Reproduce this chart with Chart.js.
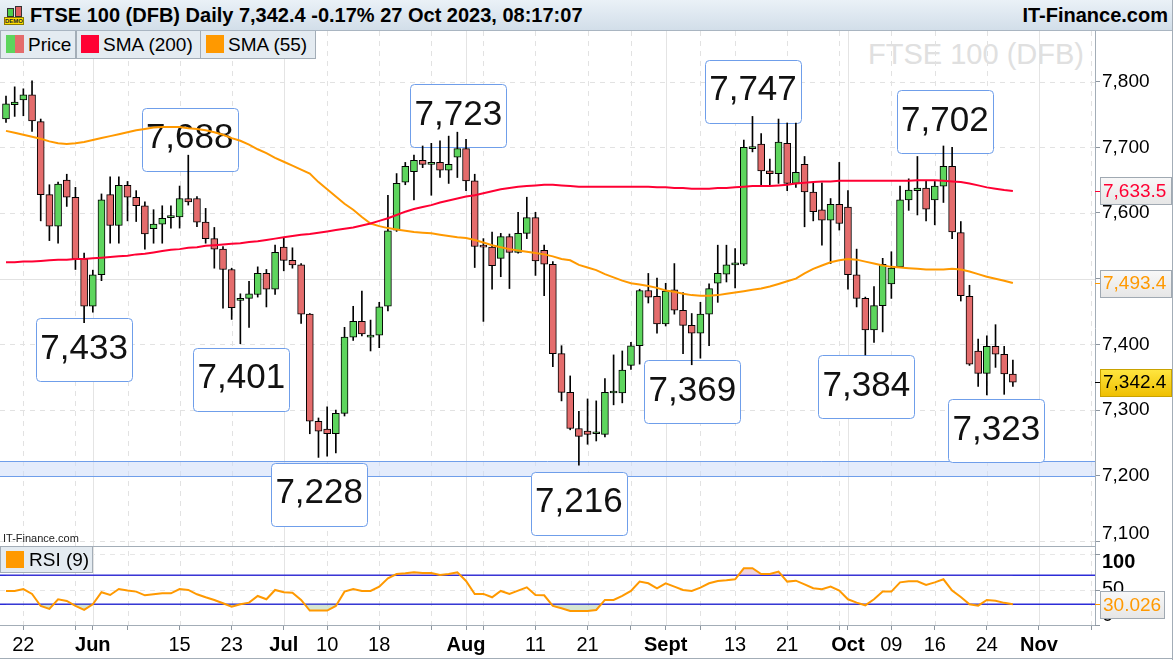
<!DOCTYPE html>
<html>
<head>
<meta charset="utf-8">
<title>FTSE 100 (DFB) Daily</title>
<script src="https://cdn.jsdelivr.net/npm/chart.js@4.4.0/dist/chart.umd.min.js"></script>
<style>
  html, body { margin: 0; padding: 0; background: #fff; }
  #wrap { position: relative; width: 1173px; height: 660px; overflow: hidden; background: #fff;
          font-family: "Liberation Sans", Arial, sans-serif; color: #000; }
  #watermark { position: absolute; right: 89px; top: 38px; font-size: 29px; color: #e0e0e0; white-space: nowrap; }
  #chart { position: absolute; left: 0; top: 0; }
  #header { position: absolute; left: 0; top: 0; width: 1173px; height: 31px; box-sizing: border-box;
            background: linear-gradient(#eaf1f7, #d2dee9); border-bottom: 1px solid #a9b5c1; }
  #title { position: absolute; left: 30px; top: 4px; font-weight: bold; font-size: 20px; white-space: nowrap; }
  #brand { position: absolute; right: 5px; top: 4px; font-weight: bold; font-size: 20px; white-space: nowrap; }
  #icon { position: absolute; left: 4px; top: 6px; width: 20px; height: 20px; }
  #icon .c1 { position: absolute; left: 3px; top: 2px; width: 5px; height: 7px; background: #4ccf4c; border: 1px solid #333; }
  #icon .c2 { position: absolute; left: 11px; top: 0px; width: 5px; height: 9px; background: #e06060; border: 1px solid #333; }
  #icon .demo { position: absolute; left: 0; top: 11px; width: 20px; height: 8px; background: #ffe000; border: 1px solid #8a7a00;
                box-sizing: border-box; font-size: 6px; line-height: 7px; font-weight: bold; color: #223; text-align: center; }
  .lg { position: absolute; top: 31px; height: 28px; box-sizing: border-box; background: #e4ebf1;
        border: 1px solid #a3adb7; border-top: none; font-size: 19px; line-height: 27px; white-space: nowrap; }
  .lg .sw { position: absolute; top: 4px; width: 18px; height: 18px; }
  .lg .tx { position: absolute; top: 0; }
  #site { position: absolute; left: 3px; top: 532px; font-size: 11px; color: #222; white-space: nowrap; }
  #rsiLegend { position: absolute; left: 0; top: 546px; width: 93px; height: 27px; box-sizing: border-box;
               background: #e4ebf1; border: 1px solid #a3adb7; font-size: 19px; line-height: 26px; white-space: nowrap; }
  #rsiLegend .sw { position: absolute; left: 5px; top: 4px; width: 18px; height: 17px; background: #ff9900; }
  #rsiLegend .tx { position: absolute; left: 28px; top: 0; }
  #frameR { position: absolute; right: 0; top: 0; width: 1px; height: 660px; background: #a3adb7; }
  #frameB { position: absolute; left: 0; top: 658px; width: 1173px; height: 1px; background: #a3adb7; }
</style>
</head>
<body>
<div id="wrap">
  <div id="watermark">FTSE 100 (DFB)</div>
  <canvas id="chart" width="1173" height="660"></canvas>
  <div id="header">
    <div id="icon"><div class="c1"></div><div class="c2"></div><div class="demo">DEMO</div></div>
    <div id="title"></div>
    <div id="brand">IT-Finance.com</div>
  </div>
  <div class="lg" style="left:0;width:76px;">
    <div class="sw" style="left:5px;width:9px;background:#5dd55d;"></div>
    <div class="sw" style="left:14px;width:9px;background:#e46c6c;"></div>
    <div class="tx" style="left:27px;">Price</div>
  </div>
  <div class="lg" style="left:76px;width:125px;">
    <div class="sw" style="left:4px;background:#ff0033;"></div>
    <div class="tx" style="left:26px;">SMA (200)</div>
  </div>
  <div class="lg" style="left:200px;width:116px;">
    <div class="sw" style="left:5px;background:#ff9900;"></div>
    <div class="tx" style="left:27px;">SMA (55)</div>
  </div>
  <div id="site">IT-Finance.com</div>
  <div id="rsiLegend"><div class="sw"></div><div class="tx">RSI (9)</div></div>
  <div id="frameR"></div>
  <div id="frameB"></div>
</div>

<script>
// ---- Daily sessions, 18 May to 27 Oct 2023 ----
const dates = ['18 May','19 May','22 May','23 May','24 May','25 May','26 May','29 May','30 May','31 May',
  '1 Jun','2 Jun','5 Jun','6 Jun','7 Jun','8 Jun','9 Jun','12 Jun','13 Jun','14 Jun','15 Jun','16 Jun','19 Jun','20 Jun','21 Jun','22 Jun','23 Jun','26 Jun','27 Jun','28 Jun','29 Jun','30 Jun',
  '3 Jul','4 Jul','5 Jul','6 Jul','7 Jul','10 Jul','11 Jul','12 Jul','13 Jul','14 Jul','17 Jul','18 Jul','19 Jul','20 Jul','21 Jul','24 Jul','25 Jul','26 Jul','27 Jul','28 Jul','31 Jul',
  '1 Aug','2 Aug','3 Aug','4 Aug','7 Aug','8 Aug','9 Aug','10 Aug','11 Aug','14 Aug','15 Aug','16 Aug','17 Aug','18 Aug','21 Aug','22 Aug','23 Aug','24 Aug','25 Aug','28 Aug','29 Aug','30 Aug','31 Aug',
  '1 Sep','4 Sep','5 Sep','6 Sep','7 Sep','8 Sep','11 Sep','12 Sep','13 Sep','14 Sep','15 Sep','18 Sep','19 Sep','20 Sep','21 Sep','22 Sep','25 Sep','26 Sep','27 Sep','28 Sep','29 Sep',
  '2 Oct','3 Oct','4 Oct','5 Oct','6 Oct','9 Oct','10 Oct','11 Oct','12 Oct','13 Oct','16 Oct','17 Oct','18 Oct','19 Oct','20 Oct','23 Oct','24 Oct','25 Oct','26 Oct','27 Oct'];

const open = [
  7743,7765,7772,7780,7739,7628,7580,7650,7624,7530,
  7458,7506,7628,7581,7642,7624,7611,7576,7583,7593,
  7594,7622,7622,7586,7561,7545,7514,7467,7470,7476,
  7508,7484,7548,7528,7521,7446,7283,7271,7264,7295,
  7411,7435,7411,7414,7458,7574,7647,7663,7680,7674,
  7677,7665,7685,7698,7649,7549,7548,7531,7564,7540,
  7569,7593,7543,7522,7386,7327,7272,7268,7264,7263,
  7326,7326,7368,7398,7482,7473,7431,7483,7452,7429,
  7417,7446,7493,7507,7521,7522,7698,7705,7664,7660,
  7706,7645,7674,7632,7605,7589,7613,7609,7506,7470,
  7422,7459,7492,7518,7620,7634,7638,7620,7641,7671,
  7570,7473,7390,7356,7397,7385,7355];
const high = [
  7778,7792,7789,7801,7743,7643,7647,7659,7639,7539,
  7513,7629,7655,7655,7648,7634,7617,7605,7611,7611,
  7641,7688,7625,7607,7578,7549,7516,7477,7496,7518,
  7514,7551,7562,7547,7523,7447,7288,7305,7300,7426,
  7458,7481,7437,7464,7627,7660,7677,7688,7702,7706,
  7710,7717,7723,7712,7659,7561,7571,7569,7568,7601,
  7624,7601,7551,7526,7398,7352,7298,7317,7314,7348,
  7384,7390,7403,7484,7508,7501,7493,7523,7479,7447,
  7464,7492,7551,7551,7546,7711,7747,7721,7682,7743,
  7737,7737,7686,7646,7646,7622,7677,7634,7545,7472,
  7488,7531,7541,7641,7652,7686,7649,7648,7702,7700,
  7587,7490,7408,7413,7430,7397,7376];
const low = [
  7738,7747,7748,7724,7588,7558,7554,7610,7514,7433,
  7449,7497,7554,7554,7588,7587,7545,7554,7554,7577,
  7577,7612,7579,7554,7516,7455,7438,7401,7426,7472,
  7457,7476,7512,7516,7432,7264,7228,7230,7235,7291,
  7406,7413,7390,7395,7451,7572,7643,7620,7669,7627,
  7654,7645,7654,7634,7517,7435,7484,7503,7485,7539,
  7561,7505,7474,7366,7314,7270,7216,7248,7253,7259,
  7308,7311,7362,7370,7463,7417,7428,7446,7386,7369,
  7379,7398,7464,7495,7486,7520,7693,7641,7643,7645,
  7634,7639,7579,7588,7551,7523,7574,7484,7457,7384,
  7403,7419,7470,7517,7604,7597,7588,7582,7616,7561,
  7466,7368,7336,7323,7365,7324,7336];
const close = [
  7766,7769,7780,7740,7628,7580,7644,7624,7530,7458,
  7506,7620,7581,7642,7624,7611,7568,7583,7592,7594,
  7622,7617,7586,7561,7545,7514,7456,7470,7477,7508,
  7484,7540,7528,7521,7446,7283,7268,7264,7295,7411,
  7435,7416,7414,7457,7573,7645,7671,7680,7674,7677,
  7665,7674,7698,7649,7549,7548,7520,7564,7540,7569,
  7593,7527,7522,7386,7327,7272,7260,7263,7265,7327,
  7327,7361,7398,7482,7472,7431,7481,7452,7429,7417,
  7446,7485,7508,7521,7522,7700,7699,7664,7660,7708,
  7645,7662,7632,7602,7589,7613,7584,7506,7470,7422,
  7459,7522,7516,7620,7635,7638,7606,7641,7671,7571,
  7474,7370,7356,7397,7385,7354.9,7342.4];

const sma200 = [
  7525,7525,7526,7526,7527,7528,7529,7529,7530,7530,
  7531,7532,7533,7534,7535,7537,7538,7540,7542,7544,
  7545,7547,7548,7550,7551,7552,7553,7554,7556,7557,
  7559,7561,7563,7565,7567,7568,7570,7572,7574,7576,
  7578,7581,7584,7588,7592,7597,7602,7606,7609,7612,
  7616,7619,7622,7625,7627,7630,7633,7636,7638,7640,
  7641,7642,7643,7643,7642,7641,7640,7640,7640,7640,
  7640,7640,7640,7640,7640,7639,7639,7638,7638,7637,
  7637,7637,7638,7638,7639,7640,7641,7641,7641,7642,
  7643,7645,7646,7647,7648,7648,7649,7649,7649,7649,
  7649,7649,7649,7649,7649,7650,7650,7650,7649,7648,
  7647,7645,7642,7639,7637,7635,7633.5];
const sma55 = [
  7725,7722,7719,7716,7713,7709,7706,7705,7706,7708,
  7711,7714,7717,7720,7723,7726,7728,7730,7731,7731,
  7731,7729,7728,7726,7723,7719,7714,7710,7704,7697,
  7691,7684,7678,7672,7666,7660,7647,7636,7625,7614,
  7605,7594,7584,7580,7577,7575,7573,7571,7570,7569,
  7567,7565,7563,7562,7559,7555,7551,7548,7545,7543,
  7541,7539,7537,7534,7530,7528,7521,7517,7513,7507,
  7502,7497,7493,7491,7489,7486,7482,7480,7477,7475,
  7474,7474,7475,7477,7479,7481,7483,7485,7488,7492,
  7496,7500,7508,7515,7520,7525,7528,7530,7529,7526,
  7523,7520,7518,7517,7516,7515,7514,7514,7514,7515,
  7514,7511,7507,7503,7500,7497,7493.4];
const rsi9 = [
  48.4,48.4,51.1,44.3,27.7,23.6,36.9,34.6,27.7,22.2,
  30,46.6,42.9,51.1,48.9,47.5,42.4,43.8,45.2,45.2,
  51.1,49.8,43.8,39.7,36,31.4,26.8,30,32.3,41.5,
  36.9,49.8,46.6,46.1,36,21.3,21.3,21.3,27.7,47.5,
  51.1,48.4,48.4,54.4,65.9,71.8,72.8,74.1,73.2,73.2,
  70.5,71.8,74.1,62.2,44.3,44.3,39.7,48.4,44.3,48.9,
  53.4,42.9,42.4,27.7,24.5,20.8,20.8,20.8,22.2,36,
  36,41.5,48.4,61.3,59,52.1,59,54.4,49.8,48.4,
  53,59,62.2,63.1,64.5,79.7,79.7,71.8,71.8,75.1,
  61.3,62.6,57.6,52.1,50.7,54.4,48.9,36.9,32.3,28.6,
  36.9,47.5,47.5,60.3,61.7,61.7,56.7,60.3,64.5,48.9,
  40,30,28.1,35.9,34.8,32,30.026];

// axis ticks: session slot (1 = first session) and its label
const tickSlots  = [3, 9, 11, 15, 21, 27, 33, 38, 44, 50, 54, 56, 62, 68, 73, 77, 81, 85, 91, 97, 98, 103, 108, 114, 120, 126];
const tickLabels = ['22','','Jun','','15','23','Jul','10','18','','Aug','','11','21','','Sept','','13','21','','Oct','09','16','24','Nov',''];
const monthSlots = [11, 33, 54, 77, 98, 120];
const priceTicks = [7100, 7200, 7300, 7400, 7500, 7600, 7700, 7800];
const rsiTicks = [0, 50, 100];
const rsiBands = [30, 70];
const supportZone = [7200, 7223];

// swing highs / lows that carry a value label
const swings = [
  { slot: 22, at: 'high' }, { slot: 10, at: 'low' }, { slot: 28, at: 'low' }, { slot: 37, at: 'low' },
  { slot: 53, at: 'high' }, { slot: 67, at: 'low' }, { slot: 80, at: 'low' }, { slot: 87, at: 'high' },
  { slot: 100, at: 'low' }, { slot: 109, at: 'high' }, { slot: 114, at: 'low' }];
// label box placement relative to the marked price (px)
const swingBoxShift = [[1.4,-16],[0,27],[1,35.6],[0.7,37],[1,-16.6],[0,38.2],[0.6,27],[0.5,-25.4],[1,32],[1.4,-24],[9.5,36]];

// ---- layout ----
const FONT = '"Liberation Sans", Arial, sans-serif';
const PANE_SPLIT = 546;          // boundary between price pane and RSI pane
const X_MIN = 0.30876, X_MAX = 126.4608;
const PRICE_MIN = 6972.9, PRICE_MAX = 7877.0;
const RSI_MIN = 1.45, RSI_MAX = 820.8;
const UP = '#5dd55d', DOWN = '#e46c6c';
const fmt = (v, d = 0) => v.toLocaleString('en-US', { minimumFractionDigits: d, maximumFractionDigits: d });

const N = close.length;
const slots = close.map((_, k) => k + 1);
const last = close[N - 1], prev = close[N - 2];
document.getElementById('title').textContent =
  'FTSE 100 (DFB) Daily ' + fmt(last, 1) + ' ' + ((last / prev - 1) * 100).toFixed(2) + '% ' + dates[N - 1] + ' 2023, 08:17:07';

function hline(ctx, x1, x2, y) { ctx.beginPath(); ctx.moveTo(x1, y); ctx.lineTo(x2, y); ctx.stroke(); }
function vline(ctx, x, y1, y2) { ctx.beginPath(); ctx.moveTo(x, y1); ctx.lineTo(x, y2); ctx.stroke(); }
const crisp = v => Math.round(v) + 0.5;

function roundRect(ctx, x, y, w, h, r) {
  ctx.beginPath();
  ctx.moveTo(x + r, y); ctx.lineTo(x + w - r, y); ctx.arcTo(x + w, y, x + w, y + r, r);
  ctx.lineTo(x + w, y + h - r); ctx.arcTo(x + w, y + h, x + w - r, y + h, r);
  ctx.lineTo(x + r, y + h); ctx.arcTo(x, y + h, x, y + h - r, r);
  ctx.lineTo(x, y + r); ctx.arcTo(x, y, x + r, y, r); ctx.closePath();
}

function valueTag(ctx, yy, text, color, top, bot, stroke, w, tickColor) {
  const t = Math.round(yy - 13.5) + 0.5, l = 1100.5, h = 27;
  const g = ctx.createLinearGradient(0, t, 0, t + h);
  g.addColorStop(0, top); g.addColorStop(1, bot);
  ctx.fillStyle = g; ctx.fillRect(l, t, w, h);
  ctx.strokeStyle = stroke; ctx.lineWidth = 1; ctx.setLineDash([]); ctx.strokeRect(l, t, w, h);
  ctx.fillStyle = color; ctx.font = '19px ' + FONT; ctx.textAlign = 'left'; ctx.textBaseline = 'middle';
  ctx.fillText(text, 1103, yy + 1);
  ctx.strokeStyle = tickColor; hline(ctx, 1095, 1100, crisp(yy));
}

const paneDecor = {
  id: 'paneDecor',
  beforeDatasetsDraw(chart) {
    const { ctx, chartArea: a, scales: { x, y, rsi } } = chart;
    ctx.save();
    ctx.lineWidth = 1;
    // vertical grid
    tickSlots.forEach(s => {
      const px = crisp(x.getPixelForValue(s));
      if (px > a.right - 1) return;
      const solid = monthSlots.includes(s);
      ctx.strokeStyle = solid ? '#e4e4e4' : '#e2e2e2';
      ctx.setLineDash(solid ? [] : [5, 5]);
      vline(ctx, px, a.top, a.bottom);
    });
    // horizontal price grid
    priceTicks.forEach(v => {
      const py = crisp(y.getPixelForValue(v));
      if (py > PANE_SPLIT - 1) return;
      ctx.strokeStyle = '#e2e2e2';
      ctx.setLineDash(v === 7500 ? [] : [5, 5]);
      hline(ctx, a.left, a.right, py);
    });
    // RSI pane grid
    [50, 100].forEach(v => {
      ctx.strokeStyle = '#e6e6e6'; ctx.setLineDash([5, 5]);
      hline(ctx, a.left, a.right, crisp(rsi.getPixelForValue(v)));
    });
    ctx.setLineDash([]);
    // support zone
    const zTop = crisp(y.getPixelForValue(supportZone[1])), zBot = crisp(y.getPixelForValue(supportZone[0]));
    ctx.fillStyle = 'rgba(205,220,250,0.55)';
    ctx.fillRect(a.left, zTop, a.right - a.left, zBot - zTop);
    ctx.strokeStyle = '#6f9eea';
    hline(ctx, a.left, a.right, zTop); hline(ctx, a.left, a.right, zBot);
    // pane separator
    ctx.strokeStyle = '#a3adb7';
    hline(ctx, a.left, a.right, PANE_SPLIT + 0.5);
    // RSI bands
    ctx.strokeStyle = '#2c2cd8'; ctx.lineWidth = 1.5;
    rsiBands.forEach(v => hline(ctx, a.left, a.right, Math.round(rsi.getPixelForValue(v)) + 0.25));
    // swing labels
    ctx.lineWidth = 1;
    ctx.font = '35px ' + FONT; ctx.textAlign = 'center'; ctx.textBaseline = 'alphabetic';
    swings.forEach((s, k) => {
      const v = s.at === 'high' ? high[s.slot - 1] : low[s.slot - 1];
      const cx = x.getPixelForValue(s.slot) + swingBoxShift[k][0];
      const cy = y.getPixelForValue(v) + swingBoxShift[k][1];
      const w = 96, h = 63;
      roundRect(ctx, Math.round(cx - w / 2) + 0.5, Math.round(cy - h / 2) + 0.5, w, h, 4);
      ctx.fillStyle = '#fff'; ctx.fill();
      ctx.strokeStyle = '#6f9eea'; ctx.stroke();
      ctx.fillStyle = '#111';
      ctx.fillText(fmt(v), cx, cy + 9);
    });
    ctx.restore();
  },
  afterDraw(chart) {
    const { ctx, chartArea: a, scales: { y, rsi } } = chart;
    ctx.save();
    ctx.textAlign = 'left'; ctx.textBaseline = 'middle'; ctx.fillStyle = '#000';
    // lowest price label, kept inside the price pane
    ctx.font = '19px ' + FONT;
    ctx.fillText(fmt(priceTicks[0]), 1102, Math.min(y.getPixelForValue(priceTicks[0]), PANE_SPLIT - 12));
    // RSI axis
    ctx.strokeStyle = '#8d969f'; ctx.lineWidth = 1;
    rsiTicks.forEach(v => {
      const py = rsi.getPixelForValue(v);
      hline(ctx, 1095, 1100, crisp(Math.min(py, a.bottom)));
      const ly = Math.max(PANE_SPLIT + 16, Math.min(py, a.bottom - 10));
      ctx.font = (v === 100 ? 'bold ' : '') + '20px ' + FONT;
      ctx.fillText(String(v), 1102, ly);
    });
    // last-value tags
    valueTag(ctx, y.getPixelForValue(sma200[N - 1]), fmt(sma200[N - 1], 1), '#ff0033', '#f8f8f8', '#e6e6e6', '#a0a9b2', 71, '#ff0033');
    valueTag(ctx, y.getPixelForValue(sma55[N - 1]), fmt(sma55[N - 1], 1), '#ff9900', '#f8f8f8', '#e6e6e6', '#a0a9b2', 71, '#ff9900');
    valueTag(ctx, y.getPixelForValue(last), fmt(last, 1), '#000', '#ffe640', '#efbf00', '#c9a200', 71, '#000');
    valueTag(ctx, rsi.getPixelForValue(rsi9[N - 1]), rsi9[N - 1].toFixed(3), '#ff9900', '#f8f8f8', '#e6e6e6', '#a0a9b2', 64, '#ff9900');
    ctx.restore();
  }
};

const pts = arr => slots.map((s, k) => ({ x: s, y: arr[k] }));

new Chart(document.getElementById('chart'), {
  type: 'bar',
  data: {
    datasets: [
      { type: 'line', label: 'RSI (9)', data: pts(rsi9), yAxisID: 'rsi', borderColor: '#ff9900', borderWidth: 2,
        pointRadius: 0, tension: 0, order: 0,
        fill: { target: { value: 30 }, above: 'rgba(0,0,0,0)', below: 'rgba(165,200,155,0.45)' } },
      { type: 'line', label: 'RSI overbought', data: pts(rsi9), yAxisID: 'rsi', borderColor: 'rgba(0,0,0,0)', borderWidth: 0,
        pointRadius: 0, tension: 0, order: 1,
        fill: { target: { value: 70 }, above: 'rgba(222,160,180,0.45)', below: 'rgba(0,0,0,0)' } },
      { type: 'line', label: 'SMA (200)', data: pts(sma200), yAxisID: 'y', borderColor: '#ff0033', borderWidth: 2,
        pointRadius: 0, tension: 0, order: 1 },
      { type: 'line', label: 'SMA (55)', data: pts(sma55), yAxisID: 'y', borderColor: '#ff9900', borderWidth: 2,
        pointRadius: 0, tension: 0, order: 1 },
      { type: 'bar', label: 'Price', data: slots.map((s, k) => ({ x: s, y: [open[k], close[k]] })), yAxisID: 'y',
        backgroundColor: close.map((c, k) => c >= open[k] ? UP : DOWN), borderColor: '#000', borderWidth: 1,
        borderSkipped: false, barThickness: 7, minBarLength: 2, grouped: false, order: 2 },
      { type: 'bar', label: 'Range', data: slots.map((s, k) => ({ x: s, y: [low[k], high[k]] })), yAxisID: 'y',
        backgroundColor: '#000', borderWidth: 0, barThickness: 1, grouped: false, order: 3 }
    ]
  },
  options: {
    responsive: false,
    devicePixelRatio: 1,
    animation: false,
    events: [],
    layout: { padding: { top: 31, left: 0, right: 0, bottom: 0 } },
    plugins: { legend: { display: false }, tooltip: { enabled: false } },
    scales: {
      x: {
        type: 'linear', position: 'bottom', min: X_MIN, max: X_MAX, offset: false,
        afterBuildTicks: s => { s.ticks = tickSlots.map(v => ({ value: v })); },
        afterFit: s => { s.height = 35; },
        grid: { drawOnChartArea: false, drawTicks: true, tickLength: 5, tickColor: '#8d969f', offset: false },
        border: { display: true, color: '#a3adb7' },
        ticks: {
          autoSkip: false, maxRotation: 0, minRotation: 0, padding: 3, color: '#000',
          font: ctx => ({ family: FONT, size: 20, weight: (ctx.tick && monthSlots.includes(ctx.tick.value)) ? 'bold' : 'normal' }),
          callback: v => { const k = tickSlots.indexOf(v); return k < 0 ? '' : tickLabels[k]; }
        }
      },
      y: {
        type: 'linear', position: 'right', min: PRICE_MIN, max: PRICE_MAX,
        afterBuildTicks: s => { s.ticks = priceTicks.map(v => ({ value: v })); },
        afterFit: s => { s.width = 78; },
        grid: { drawOnChartArea: false, drawTicks: true, tickLength: 5, tickColor: '#8d969f' },
        border: { display: true, color: '#a3adb7' },
        ticks: { autoSkip: false, padding: 2, color: '#000', font: { family: FONT, size: 19 },
                 callback: v => v === priceTicks[0] ? '' : fmt(v) }
      },
      // RSI scale: shares the plot height, its labels are drawn by paneDecor
      rsi: {
        type: 'linear', axis: 'y', position: 'left', min: RSI_MIN, max: RSI_MAX,
        afterFit: s => { s.width = 0; },
        grid: { display: false, drawTicks: false },
        border: { display: false },
        ticks: { display: false }
      }
    }
  },
  plugins: [paneDecor]
});
</script>
</body>
</html>
